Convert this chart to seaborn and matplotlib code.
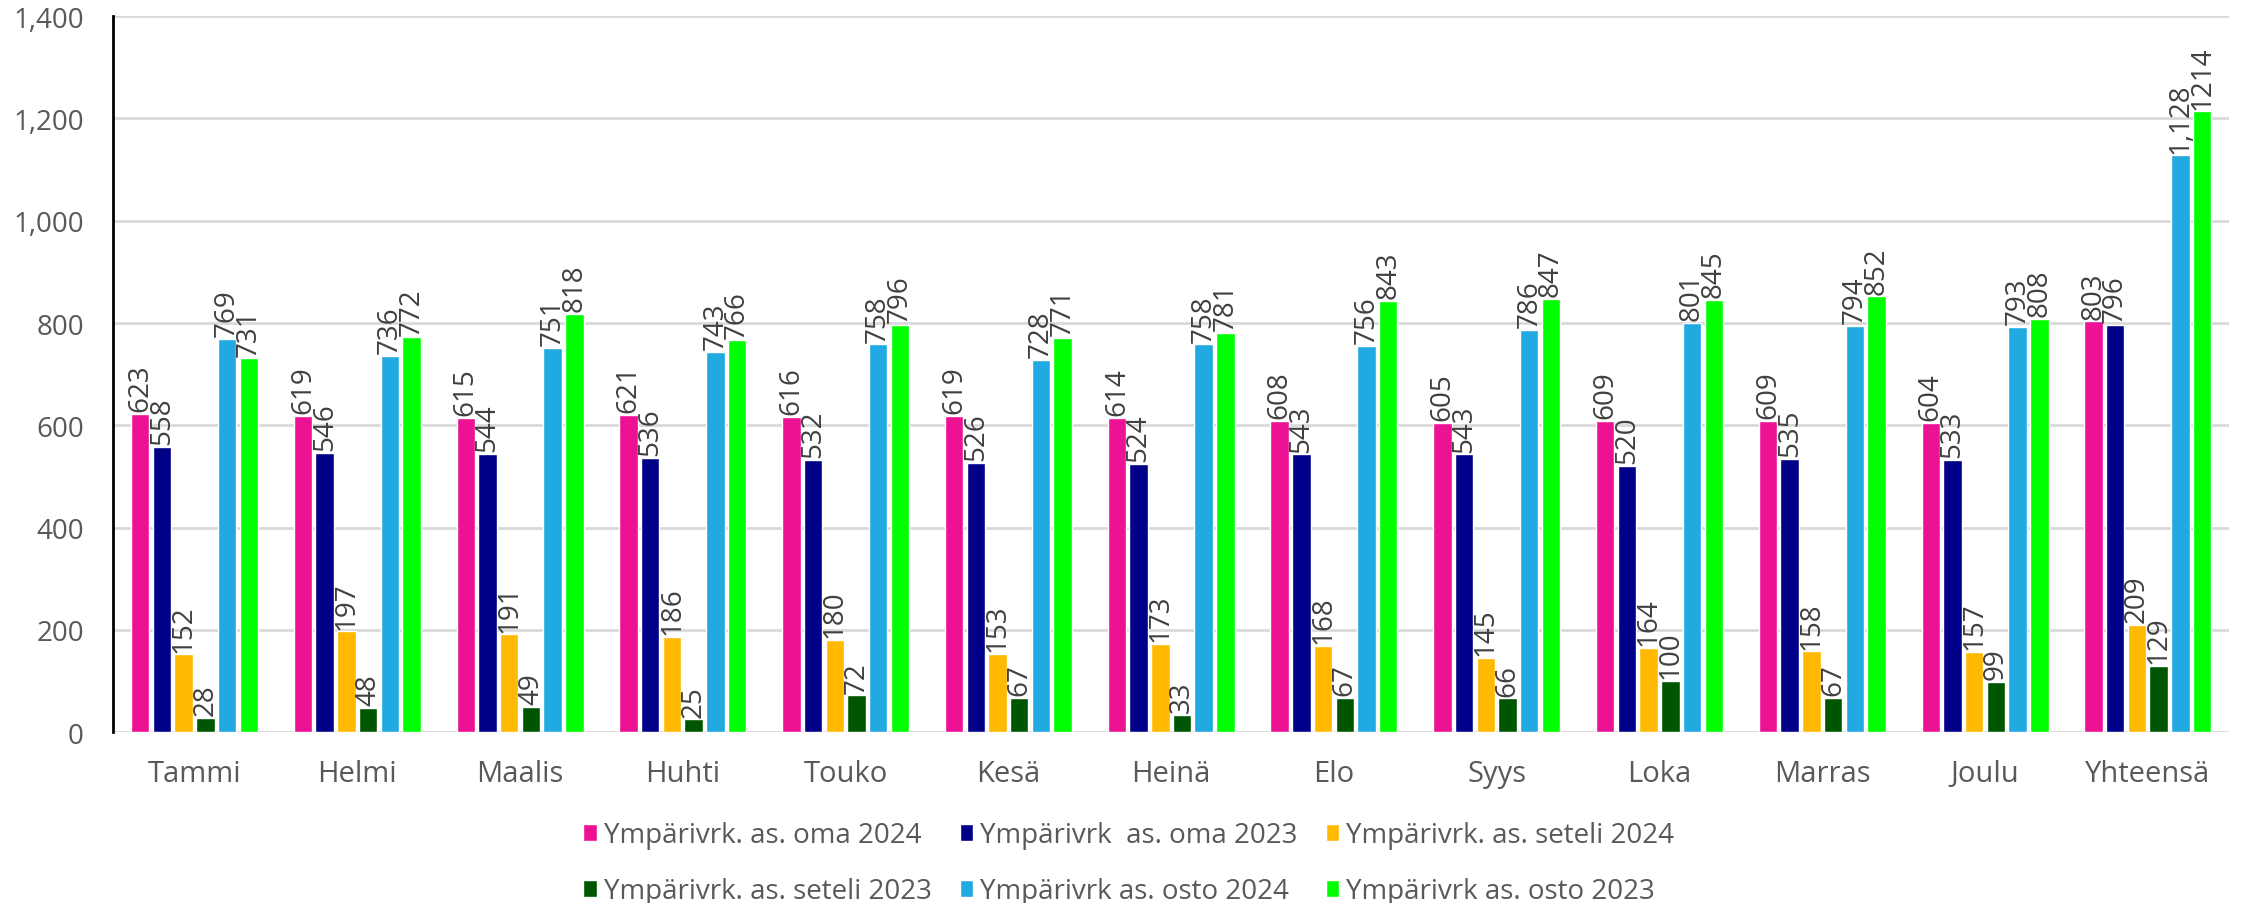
import matplotlib
matplotlib.use("Agg")
import matplotlib.pyplot as plt
import pandas as pd
import seaborn as sns
from matplotlib.ticker import FuncFormatter

months = ["Tammi", "Helmi", "Maalis", "Huhti", "Touko", "Kesä", "Heinä",
          "Elo", "Syys", "Loka", "Marras", "Joulu", "Yhteensä"]

series_names = [
    "Ympärivrk. as. oma 2024",
    "Ympärivrk  as. oma 2023",
    "Ympärivrk. as. seteli 2024",
    "Ympärivrk. as. seteli 2023",
    "Ympärivrk as. osto 2024",
    "Ympärivrk as. osto 2023",
]

oma_2024 = [623, 619, 615, 621, 616, 619, 614, 608, 605, 609, 609, 604, 803]
oma_2023 = [558, 546, 544, 536, 532, 526, 524, 543, 543, 520, 535, 533, 796]
seteli_2024 = [152, 197, 191, 186, 180, 153, 173, 168, 145, 164, 158, 157, 209]
seteli_2023 = [28, 48, 49, 25, 72, 67, 33, 67, 66, 100, 67, 99, 129]
osto_2024 = [769, 736, 751, 743, 758, 728, 758, 756, 786, 801, 794, 793, 1128]
osto_2023 = [731, 772, 818, 766, 796, 771, 781, 843, 847, 845, 852, 808, 1214]

colors = ["#ED1194", "#000088", "#FFB900", "#005500", "#21A9E1", "#00FF00"]

all_values = [oma_2024, oma_2023, seteli_2024, seteli_2023, osto_2024, osto_2023]

rows = []
for name, vals in zip(series_names, all_values):
    for m, v in zip(months, vals):
        rows.append({"month": m, "series": name, "value": v})
df = pd.DataFrame(rows)

sns.set_style("white")
plt.rcParams["font.family"] = ["Open Sans", "DejaVu Sans"]
text_color = "#595959"

fig = plt.figure(figsize=(22.44, 9.04), dpi=100)
ax = fig.add_axes([0.0504, 0.189, 0.943, 0.792])

sns.barplot(data=df, x="month", y="value", hue="series", hue_order=series_names,
            order=months, palette=colors, width=0.8, gap=0.15, ax=ax,
            saturation=1, legend=True)

# Value labels, rotated like the original
for i, cont in enumerate(ax.containers):
    if i == 5:
        labels = [f"{v:d}" for v in all_values[i]]
    else:
        labels = [f"{v:,}" for v in all_values[i]]
    ax.bar_label(cont, labels=labels, rotation=90, padding=2,
                 fontsize=20, color="#404040")

ax.set_ylim(0, 1400)
ax.set_yticks(range(0, 1401, 200))
ax.yaxis.set_major_formatter(FuncFormatter(lambda v, p: f"{int(v):,}"))
ax.set_xlim(-0.5, len(months) - 0.5)
ax.grid(axis="y", color="#D9D9D9", linewidth=2)
ax.set_axisbelow(True)
ax.set_xlabel("")
ax.set_ylabel("")
ax.tick_params(axis="both", length=0, labelcolor=text_color)
ax.tick_params(axis="x", pad=19, labelsize=21)
ax.tick_params(axis="y", pad=21, labelsize=20)

for side in ["top", "right", "bottom"]:
    ax.spines[side].set_visible(False)
ax.spines["left"].set_color("black")
ax.spines["left"].set_linewidth(2)

# Legend: 2 rows x 3 columns, filled row by row
handles, labels = ax.get_legend_handles_labels()
ax.get_legend().remove()
order = [0, 3, 1, 4, 2, 5]
fig.legend([handles[k] for k in order], [labels[k] for k in order],
           loc="lower center", bbox_to_anchor=(0.503, -0.03), ncol=3,
           frameon=False, fontsize=20, labelcolor=text_color,
           handlelength=0.5, handleheight=0.6, handletextpad=0.25,
           columnspacing=1.0, labelspacing=1.0)

fig.savefig("out.png", dpi=100)
